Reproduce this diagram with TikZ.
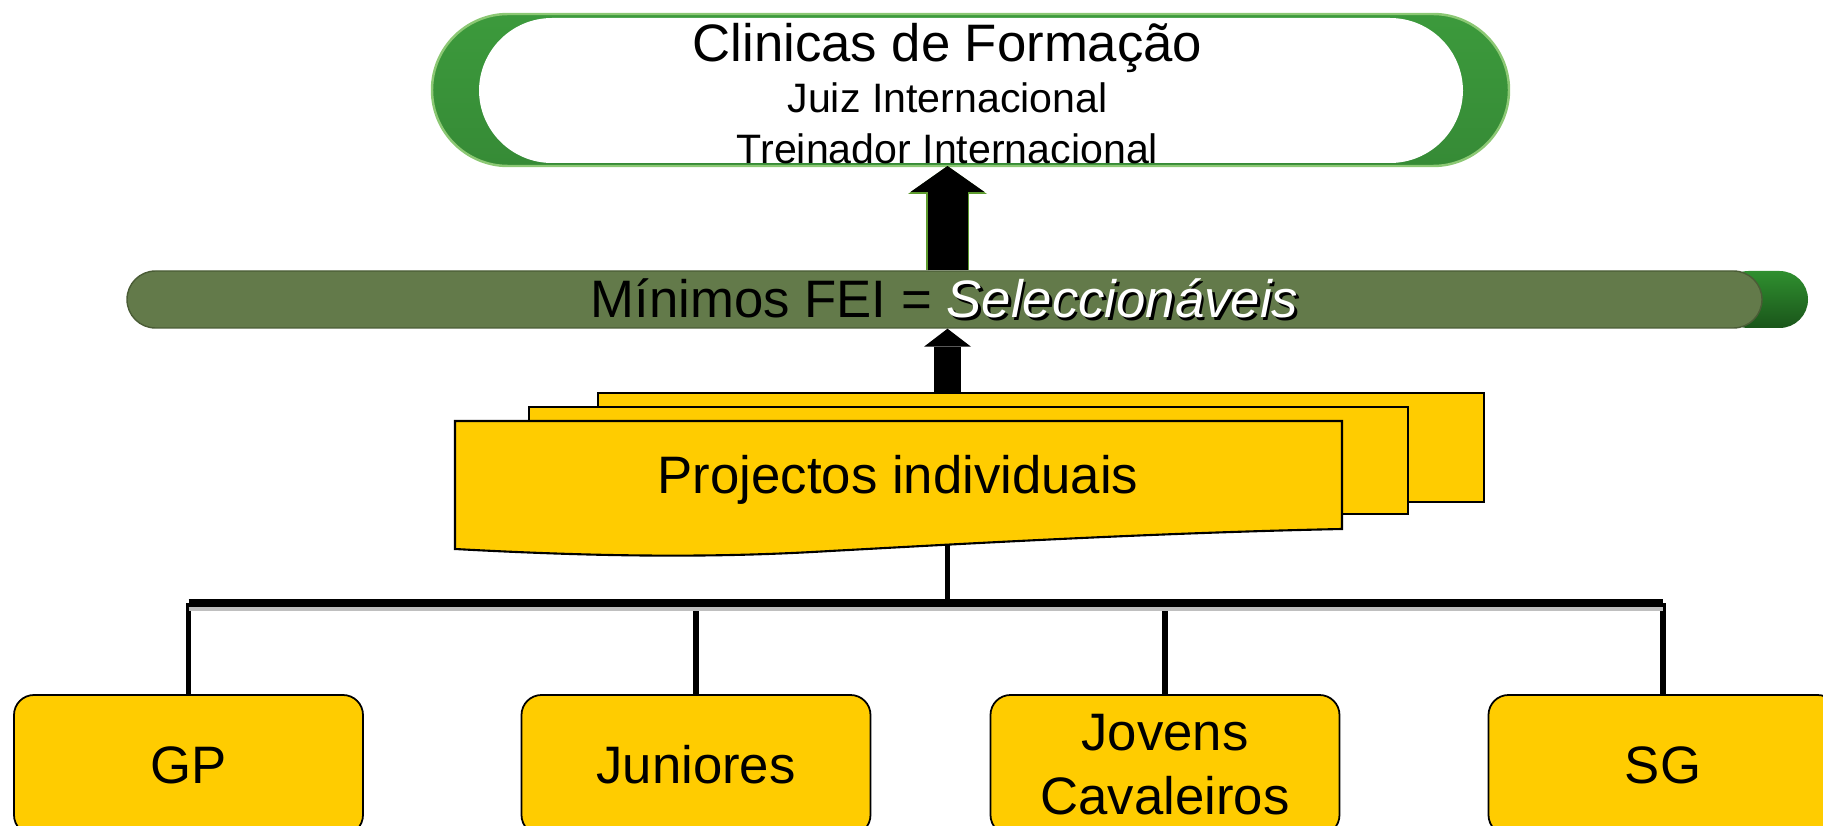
\documentclass[tikz,border=0pt]{standalone}
\usepackage{fontspec}
\setmainfont{Liberation Sans}
\usetikzlibrary{arrows.meta}
\definecolor{ringlight}{HTML}{3C9A3C}
\definecolor{ringdark}{HTML}{173F17}
\definecolor{ringedge}{HTML}{8CC874}
\definecolor{barolive}{HTML}{637A4A}
\definecolor{bardark}{HTML}{4A5C36}
\definecolor{capgreen}{HTML}{2F8F2F}
\definecolor{capdark}{HTML}{1A551A}
\definecolor{arrowgreen}{HTML}{5D9B2E}
\definecolor{gold}{HTML}{FFCC00}
\newcommand{\shadowed}[1]{\makebox[0pt][l]{\hspace{0.8pt}\raisebox{-0.8pt}{\color{black}#1}}{\color{white}#1}}

\begin{document}
\begin{tikzpicture}[
  big/.style={font=\fontsize{15}{18.2}\selectfont},
  small/.style={font=\fontsize{11.7}{14}\selectfont},
  feibar/.style={fill=barolive, draw=bardark, line width=0.4pt, rounded corners=2.85mm,
    minimum width=16.35cm, minimum height=5.7mm, inner sep=0pt, big},
  docpage/.style={draw, fill=gold, line width=0.6pt},
  leaf/.style={draw, fill=gold, line width=0.5pt, rounded corners=2mm, minimum width=3.49cm,
    minimum height=1.4cm, align=center, big},
  stem/.style={line width=1.5pt},
  busline/.style={line width=2.2pt},
  bigarrow/.style={line width=4mm, -{Triangle[length=2.6mm,width=7.4mm,line width=0pt]},
    preaction={draw=arrowgreen, line width=4.3mm, -{Triangle[length=2.8mm,width=7.9mm,line width=0pt]}}},
  smallarrow/.style={line width=2.7mm, -{Triangle[length=1.8mm,width=4.7mm,line width=0pt]}}]
\useasboundingbox (0,0) rectangle (18.23,-8.26);
\clip (0,0) rectangle (18.23,-8.26);

\shade[top color=ringlight, middle color=ringdark, bottom color=ringlight!90!black,
  draw=ringedge, line width=0.7pt, rounded corners=7.6mm] (4.32,-0.14) rectangle (15.09,-1.66);
\fill[white, rounded corners=7.3mm] (4.79,-0.18) rectangle (14.63,-1.63);
\node[big, anchor=base] (clinic) at (9.475,-0.62) {Clinicas de Formação};
\node[small, anchor=base] (juiz) at (9.475,-1.13) {Juiz Internacional};
\node[small, anchor=base] (treinador) at (9.475,-1.64) {Treinador Internacional};

\coordinate (ringbot) at (9.475,-1.66);
\coordinate (stacktop) at (9.475,-3.93);
\coordinate (projbot) at (9.475,-5.45);
\coordinate (bus) at (9.475,-6.03);

\shade[top color=capgreen, bottom color=capdark, rounded corners=2.85mm] (17.2,-2.71) rectangle (18.08,-3.28);
\node[feibar] (fei) at (9.445,-2.995) {Mínimos FEI = \textit{\shadowed{Seleccionáveis}}};
\draw[bigarrow] (fei.north -| ringbot) -- (ringbot);
\draw[smallarrow] (stacktop) -- (fei.south -| stacktop);

\foreach \n/\name/\txt in {1.885/gp/GP, 6.96/jun/Juniores, 11.65/jov/{Jovens\\Cavaleiros}, 16.63/sg/SG}
  \node[leaf] (\name) at (\n,-7.65) {\txt};
\foreach \name in {gp,jun,jov,sg}
  \draw[stem] (\name.north) -- (\name.north |- bus);
\draw[gray!50, line width=1pt] ([yshift=-0.6mm]gp.north |- bus) -- ([yshift=-0.6mm]sg.north |- bus);
\draw[busline] (gp.north |- bus) -- (sg.north |- bus);
\draw[stem] (projbot) -- (bus);

\foreach \xa/\ya/\xb/\yb in {5.98/3.93/14.84/5.02, 5.29/4.07/14.08/5.14}
  \filldraw[docpage] (\xa,-\ya) rectangle (\xb,-\yb);
\filldraw[docpage] (4.55,-4.21) -- (13.42,-4.21) -- (13.42,-5.29)
  .. controls (11.5,-5.33) and (9.6,-5.44) .. (8.3,-5.51)
  .. controls (7.3,-5.57) and (6.2,-5.58) .. (4.55,-5.49) -- cycle;
\node[big, anchor=base] (proj) at (8.98,-4.94) {Projectos individuais};
\end{tikzpicture}
\end{document}
